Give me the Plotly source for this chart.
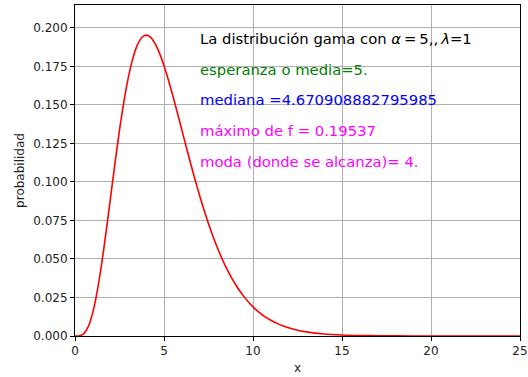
import plotly.graph_objects as go

# Gamma density with alpha=5, lambda=1, sampled along x
x_vals = [0, 0.25, 0.5, 0.75, 1, 1.25, 1.5, 1.75, 2, 2.25, 2.5, 2.75, 3, 3.25,
          3.5, 3.75, 4, 4.25, 4.5, 4.75, 5, 5.25, 5.5, 5.75, 6, 6.25, 6.5, 6.75,
          7, 7.25, 7.5, 8, 8.5, 9, 9.5, 10, 10.5, 11, 11.5, 12, 12.5, 13, 14,
          15, 16, 17, 18, 20, 22, 25]
pdf_vals = [0.0, 0.000127, 0.00158, 0.006228, 0.015328, 0.029145, 0.047067,
            0.06791, 0.090224, 0.112553, 0.133602, 0.152339, 0.168031, 0.180245,
            0.188812, 0.193783, 0.195367, 0.193904, 0.189808, 0.183512, 0.175467,
            0.166103, 0.15582, 0.144968, 0.133854, 0.122738, 0.11182, 0.10128,
            0.091226, 0.081753, 0.072916, 0.057252, 0.044255, 0.033737, 0.025403,
            0.018917, 0.013946, 0.010189, 0.007382, 0.005309, 0.003791, 0.00269,
            0.001331, 0.000645, 0.000307, 0.000144, 0.0000666, 0.0000137,
            0.0000027, 0.0]

# Summary text lines: (text, y position in data units, colour)
info_lines = [
    ("La distribución gama con <i>α</i>\u2009=\u20095,,\u2009<i>λ</i>=1", 0.19, "black"),
    ("esperanza o media=5.", 0.17, "#008000"),
    ("mediana =4.670908882795985", 0.15, "#0000ff"),
    ("máximo de f = 0.19537", 0.13, "#ff00ff"),
    ("moda (donde se alcanza)= 4.", 0.11, "#ff00ff"),
]
text_x = 6.9

y_ticks = [0.0, 0.025, 0.05, 0.075, 0.1, 0.125, 0.15, 0.175, 0.2]
x_ticks = [0, 5, 10, 15, 20, 25]

fig = go.Figure()
fig.add_trace(go.Scatter(
    x=x_vals, y=pdf_vals, mode="lines",
    line=dict(color="#ff0000", width=1.6, shape="spline", smoothing=0.8),
    showlegend=False, hoverinfo="x+y",
))

for txt, yv, col in info_lines:
    fig.add_annotation(
        x=text_x, y=yv + 0.0033, xref="x", yref="y", text=txt,
        showarrow=False, xanchor="left", yanchor="middle",
        font=dict(family="DejaVu Sans", size=14.8, color=col),
    )

axis_common = dict(
    showline=True, linecolor="black", linewidth=1, mirror=True,
    ticks="outside", ticklen=4, tickcolor="black", tickwidth=1,
    showgrid=True, gridcolor="#b0b0b0", gridwidth=0.8,
    zeroline=False, automargin=False,
    tickfont=dict(family="DejaVu Sans", size=12, color="#222222"),
    title_font=dict(family="DejaVu Sans", size=12, color="#222222"),
)

fig.update_layout(
    width=528, height=377,
    margin=dict(l=75, r=8, t=5, b=41),
    paper_bgcolor="white", plot_bgcolor="white",
    xaxis=dict(range=[0, 25], tickvals=x_ticks, ticktext=[str(v) for v in x_ticks],
               title=dict(text="x", standoff=6), **axis_common),
    yaxis=dict(range=[0, 0.2149], tickvals=y_ticks,
               ticktext=[f"{v:.3f}" for v in y_ticks],
               title=dict(text="probabilidad", standoff=6), **axis_common),
)

fig.write_html("out.html")
